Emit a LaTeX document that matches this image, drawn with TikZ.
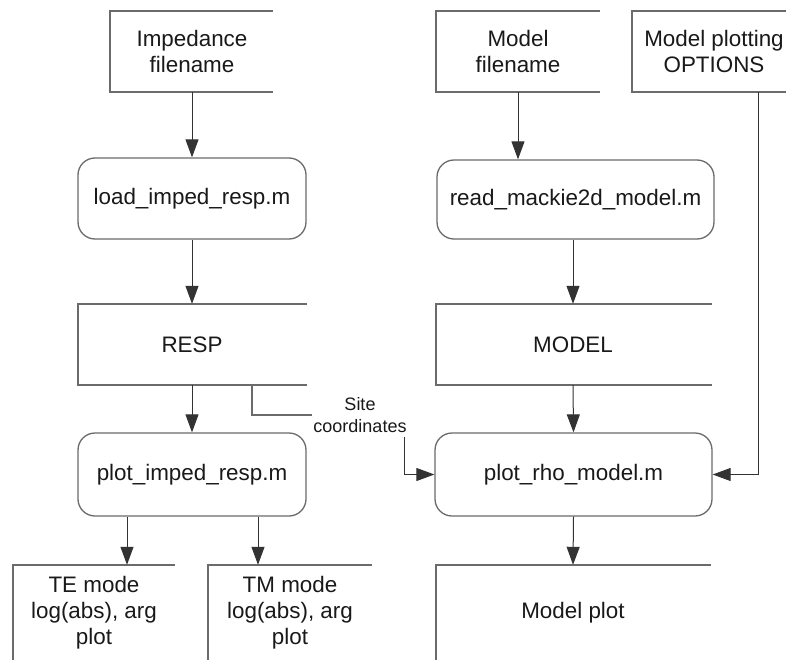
\documentclass[tikz,border=0pt]{standalone}
\usepackage{fontspec}
\setmainfont{Liberation Sans}
\usetikzlibrary{arrows.meta,calc}
\newcommand{\bigfs}{\fontsize{22.4pt}{26pt}\selectfont}
\newcommand{\smallfs}{\fontsize{18pt}{22pt}\selectfont}
\begin{document}
\begin{tikzpicture}[x=1pt,y=-1pt,
  outline/.style={draw=black!58,line width=1.3pt,line join=miter},
  proc/.style={draw=black!58,line width=1.3pt,rounded corners=17pt,rectangle,
    font=\bigfs,text=black!90,align=center,inner sep=0pt},
  txt/.style={font=\bigfs,text=black!90,align=center,inner sep=0pt},
  smalltxt/.style={font=\smallfs,text=black!90,align=center,inner sep=1pt},
  flow/.style={draw=black!80,line width=1pt,-{Triangle[length=18pt,width=13pt]}}
]
\useasboundingbox[fill=white] (0,0) rectangle (786,660);

% ---- data boxes (open on the right) ----
\draw[outline] (273,11) -- (110,11) -- (110,92) -- (273,92);
\node[txt,minimum height=81pt] (impf) at (192,51.5) {Impedance\\filename};

\draw[outline] (600,11) -- (436,11) -- (436,92) -- (600,92);
\node[txt,minimum height=81pt] (modf) at (518,51.5) {Model\\filename};

\draw[outline] (790,11) -- (632,11) -- (632,92) -- (790,92);
\node[txt,minimum height=81pt] (opts) at (714,51.5) {Model plotting\\OPTIONS};

\draw[outline] (307,304) -- (78,304) -- (78,385) -- (307,385);
\node[txt,minimum height=81pt] (resp) at (192,344.5) {RESP};

\draw[outline] (712,304) -- (436,304) -- (436,385) -- (712,385);
\node[txt,minimum height=81pt] (model) at (573,344.5) {MODEL};

% bottom boxes run past the lower edge
\draw[outline] (175,565) -- (13,565) -- (13,670);
\node[txt,minimum height=95pt] (te) at (94,612.5) {TE mode\\log(abs), arg\\plot};

\draw[outline] (372,565) -- (208,565) -- (208,670);
\node[txt,minimum height=95pt] (tm) at (290,612.5) {TM mode\\log(abs), arg\\plot};

\draw[outline] (711,565) -- (436,565) -- (436,670);
\node[txt,minimum height=95pt] (mplot) at (573,612.5) {Model plot};

% ---- processing steps ----
\node[proc,minimum width=228pt,minimum height=81pt] (load) at (192,198.5) {load\_imped\_resp.m};
\node[proc,minimum width=277pt,minimum height=79pt] (read) at (575.5,199.5) {read\_mackie2d\_model.m};
\node[proc,minimum width=228pt,minimum height=83pt] (plotimp) at (192,474.5) {plot\_imped\_resp.m};
\node[proc,minimum width=277pt,minimum height=83pt] (plotrho) at (573.5,474.5) {plot\_rho\_model.m};

\node[smalltxt] (site) at (360,415) {Site\\coordinates};

% ---- connectors ----
\draw[flow] (impf.south) -- (load.north);
\draw[flow] (load.south) -- (resp.north);
\draw[flow] (resp.south) -- (plotimp.north);
\draw[flow] ([xshift=33pt]te.north |- plotimp.south) -- ([xshift=33pt]te.north);
\draw[flow] ([xshift=-32pt]tm.north |- plotimp.south) -- ([xshift=-32pt]tm.north);

\draw[flow] (modf.south) -- (modf.south |- read.north);
\draw[flow] (read.south -| model.north) -- (model.north);
\draw[flow] (model.south) -- (plotrho.north);
\draw[flow] (plotrho.south) -- (mplot.north);
\draw[flow] ([xshift=44pt]opts.south) |- (plotrho.east);

\draw[draw=black!58,line width=1.3pt] ([xshift=60pt]resp.south) |- (site.west);
\draw[flow] ([xshift=-3pt,yshift=-3pt]site.south east) |- (plotrho.west);
\end{tikzpicture}
\end{document}
